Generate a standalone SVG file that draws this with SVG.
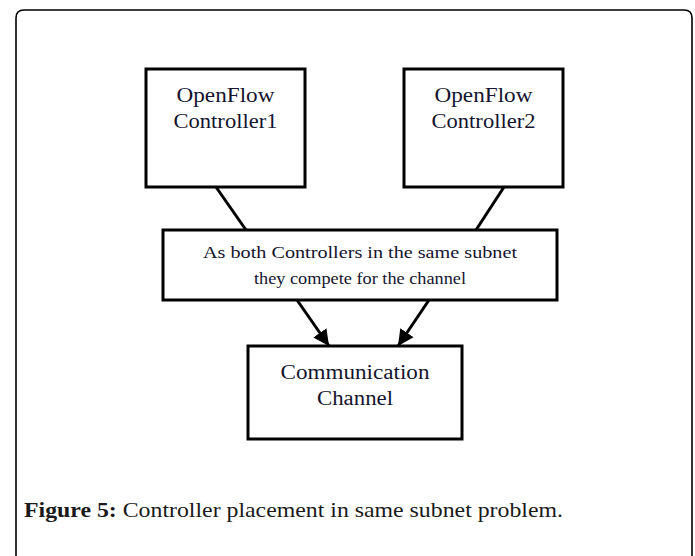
<svg xmlns="http://www.w3.org/2000/svg" width="695" height="556" viewBox="0 0 695 556">
  <style>
    .box { fill: #ffffff; stroke: #000000; stroke-width: 3; }
    .label { font-family: "Liberation Serif", "Times New Roman", serif; fill: #14142e; text-anchor: middle; }
    .edge { stroke: #000000; stroke-width: 3; fill: none; }
    .caption { font-family: "Liberation Serif", "DejaVu Serif", serif; font-size: 22px; fill: #1a1a1a; }
  </style>
  <defs>
    <marker id="arrow" markerUnits="userSpaceOnUse" markerWidth="18" markerHeight="18" refX="16" refY="9" orient="auto">
      <path d="M0,1 L16,9 L0,17 Z" fill="#000000"/>
    </marker>
  </defs>

  <rect width="695" height="556" fill="#ffffff"/>

  <!-- outer frame, open at the bottom -->
  <path d="M16,560 L16,18 Q16,10 24,10 L684,10 Q692,10 692,18 L692,560" fill="none" stroke="#000000" stroke-width="1.6"/>

  <g id="connectors">
    <line class="edge" x1="216" y1="187" x2="246" y2="230"/>
    <line class="edge" x1="504" y1="187" x2="476" y2="230"/>
    <line class="edge" x1="297" y1="300" x2="329" y2="346" marker-end="url(#arrow)"/>
    <line class="edge" x1="429" y1="300" x2="398" y2="346" marker-end="url(#arrow)"/>
  </g>

  <g id="controller1">
    <rect class="box" x="146" y="69" width="159" height="118"/>
    <text class="label" font-size="20" x="225.5" y="102" textLength="98" lengthAdjust="spacingAndGlyphs">OpenFlow</text>
    <text class="label" font-size="20" x="225.5" y="128" textLength="104" lengthAdjust="spacingAndGlyphs">Controller1</text>
  </g>

  <g id="controller2">
    <rect class="box" x="404" y="69" width="159" height="118"/>
    <text class="label" font-size="20" x="483.5" y="102" textLength="98" lengthAdjust="spacingAndGlyphs">OpenFlow</text>
    <text class="label" font-size="20" x="483.5" y="128" textLength="104" lengthAdjust="spacingAndGlyphs">Controller2</text>
  </g>

  <g id="subnet">
    <rect class="box" x="163" y="230" width="394" height="70" stroke-width="2.5"/>
    <text class="label" font-size="17" x="360" y="258" textLength="314" lengthAdjust="spacingAndGlyphs">As both Controllers in the same subnet</text>
    <text class="label" font-size="17" x="360" y="284" textLength="212" lengthAdjust="spacingAndGlyphs">they compete for the channel</text>
  </g>

  <g id="channel">
    <rect class="box" x="248" y="346" width="214" height="93"/>
    <text class="label" font-size="20" x="355" y="379" textLength="149" lengthAdjust="spacingAndGlyphs">Communication</text>
    <text class="label" font-size="20" x="355" y="405" textLength="76" lengthAdjust="spacingAndGlyphs">Channel</text>
  </g>

  <text class="caption" x="24" y="517" textLength="539" lengthAdjust="spacingAndGlyphs"><tspan font-weight="bold">Figure 5:</tspan> Controller placement in same subnet problem.</text>
</svg>
